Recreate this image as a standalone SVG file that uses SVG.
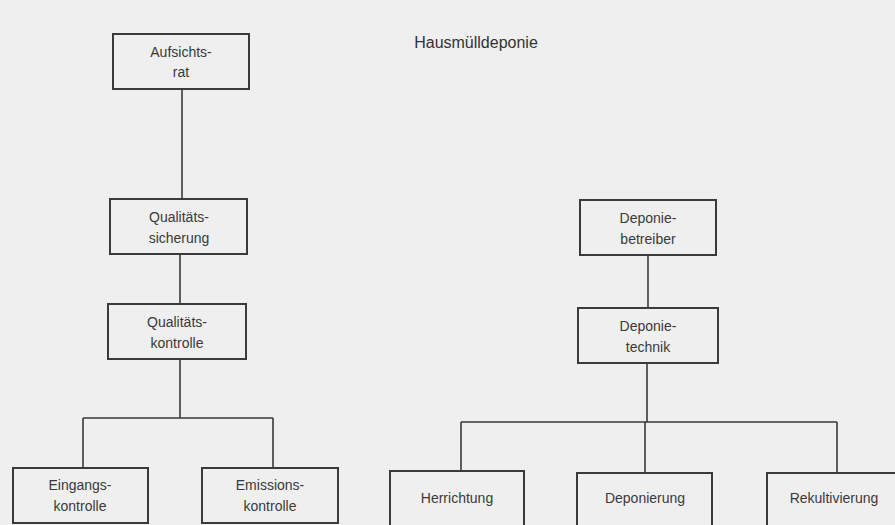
<svg xmlns="http://www.w3.org/2000/svg" width="895" height="525" viewBox="0 0 895 525">
<style>
.box{fill:none;stroke:#3a3a3a;stroke-width:2}
.t{font-family:"Liberation Sans",Arial,sans-serif;font-size:14px;fill:#3a3a3a;text-anchor:middle}
.title{font-family:"Liberation Sans",Arial,sans-serif;font-size:16px;fill:#333;text-anchor:middle}
.c{fill:none;stroke:#3a3a3a;stroke-width:1.6}
</style>
<rect x="0" y="0" width="895" height="525" fill="#efefef"/>
<text class="title" x="476" y="48">Hausmülldeponie</text>
<g id="connectors">
<path class="c" d="M182 89V199"/>
<path class="c" d="M180 254V304"/>
<path class="c" d="M180 359V418M83 418H273M83 418V468M273 418V468"/>
<path class="c" d="M648 255V308"/>
<path class="c" d="M647 363V422M461 422H837M461 422V471M645 422V473M837 422V473"/>
</g>
<g id="aufsichtsrat"><rect class="box" x="113" y="34" width="136" height="55"/><text class="t" x="181" y="57">Aufsichts-</text><text class="t" x="181" y="77">rat</text></g>
<g id="qualitaetssicherung"><rect class="box" x="110" y="199" width="137" height="55"/><text class="t" x="179" y="222">Qualitäts-</text><text class="t" x="179" y="243">sicherung</text></g>
<g id="qualitaetskontrolle"><rect class="box" x="108" y="304" width="138" height="55"/><text class="t" x="177" y="327">Qualitäts-</text><text class="t" x="177" y="348">kontrolle</text></g>
<g id="eingangskontrolle"><rect class="box" x="13" y="468" width="135" height="55"/><text class="t" x="80" y="490">Eingangs-</text><text class="t" x="80" y="511">kontrolle</text></g>
<g id="emissionskontrolle"><rect class="box" x="202" y="468" width="136" height="55"/><text class="t" x="270" y="490">Emissions-</text><text class="t" x="270" y="511">kontrolle</text></g>
<g id="deponiebetreiber"><rect class="box" x="580" y="200" width="136" height="55"/><text class="t" x="648" y="223">Deponie-</text><text class="t" x="648" y="244">betreiber</text></g>
<g id="deponietechnik"><rect class="box" x="578" y="308" width="140" height="55"/><text class="t" x="648" y="331">Deponie-</text><text class="t" x="648" y="352">technik</text></g>
<g id="herrichtung"><rect class="box" x="390" y="471" width="134" height="60"/><text class="t" x="457" y="503">Herrichtung</text></g>
<g id="deponierung"><rect class="box" x="577" y="473" width="135" height="60"/><text class="t" x="645" y="503">Deponierung</text></g>
<g id="rekultivierung"><rect class="box" x="767" y="473" width="135" height="60"/><text class="t" x="834" y="503">Rekultivierung</text></g>
</svg>
